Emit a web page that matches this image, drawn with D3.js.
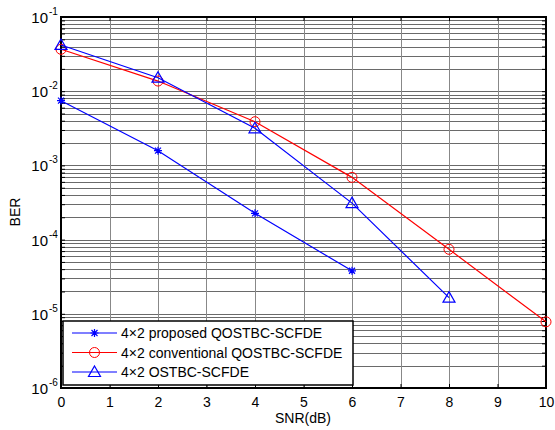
<!DOCTYPE html>
<html>
<head>
<meta charset="utf-8">
<script src="https://cdn.jsdelivr.net/npm/d3@7"></script>
<style>
  body { margin: 0; background: #fff; }
  text { font-family: "Liberation Sans", Arial, sans-serif; }
</style>
</head>
<body>
<svg id="chart" width="555" height="430"></svg>
<script>
// values
var snrProposed = [0, 2, 4, 6];
var berProposed = [7.45e-3, 1.58e-3, 2.26e-4, 3.8e-5];
var snrConv = [0, 2, 4, 6, 8, 10];
var berConv = [3.67e-2, 1.37e-2, 3.88e-3, 6.9e-4, 7.4e-5, 7.8e-6];
var snrOstbc = [0, 2, 4, 6, 8];
var berOstbc = [4.2e-2, 1.52e-2, 3.16e-3, 3.1e-4, 1.65e-5];
var xTicks = [0, 1, 2, 3, 4, 5, 6, 7, 8, 9, 10];
var yExponents = [-1, -2, -3, -4, -5, -6];
var seriesNames = ["4\u00d72 proposed QOSTBC-SCFDE", "4\u00d72 conventional QOSTBC-SCFDE", "4\u00d72 OSTBC-SCFDE"];

var svg = d3.select("#chart");
// note: "top" is taken by window.top, so use p* names
var pLeft = 61, pRight = 546, pTop = 17, pBottom = 388;

var x = d3.scaleLinear().domain([0, 10]).range([pLeft, pRight]);
var y = d3.scaleLog().domain([1e-6, 1e-1]).range([pBottom, pTop]);

// grid
var minor = [];
yExponents.slice(1).forEach(function(e) {
  for (var k = 2; k <= 9; k++) minor.push(k * Math.pow(10, e));
});
var grid = svg.append("g");
grid.selectAll(".ymin").data(minor).enter().append("line")
  .attr("x1", pLeft).attr("x2", pRight)
  .attr("y1", d => Math.round(y(d)) + 0.5).attr("y2", d => Math.round(y(d)) + 0.5)
  .attr("stroke", "#6a6a6a").attr("stroke-width", 1);
grid.selectAll(".ymaj").data(yExponents).enter().append("line")
  .attr("x1", pLeft).attr("x2", pRight)
  .attr("y1", d => Math.round(y(Math.pow(10, d))) + 0.5).attr("y2", d => Math.round(y(Math.pow(10, d))) + 0.5)
  .attr("stroke", "#6a6a6a").attr("stroke-width", 1);
grid.selectAll(".xg").data(xTicks).enter().append("line")
  .attr("y1", pTop).attr("y2", pBottom)
  .attr("x1", d => Math.round(x(d)) + 0.5).attr("x2", d => Math.round(x(d)) + 0.5)
  .attr("stroke", "#888").attr("stroke-width", 1);

// axes with ticks
var axB = d3.axisBottom(x).tickValues(xTicks).tickSizeInner(-4).tickSizeOuter(0).tickPadding(9).tickFormat(d3.format("d"));
var axT = d3.axisTop(x).tickValues(xTicks).tickSizeInner(-4).tickSizeOuter(0).tickFormat("");
var gB = svg.append("g").attr("transform", "translate(0," + pBottom + ")").call(axB);
svg.append("g").attr("transform", "translate(0," + pTop + ")").call(axT);
var yAll = minor.concat(yExponents.map(e => Math.pow(10, e)));
svg.append("g").attr("transform", "translate(" + pLeft + ",0)")
  .call(d3.axisLeft(y).tickValues(yAll).tickSizeInner(-4).tickSizeOuter(0).tickFormat(""));
svg.append("g").attr("transform", "translate(" + pRight + ",0)")
  .call(d3.axisRight(y).tickValues(yAll).tickSizeInner(-4).tickSizeOuter(0).tickFormat(""));
svg.selectAll(".domain").remove();
svg.selectAll(".tick line").attr("stroke", "#000");
gB.selectAll("text").attr("font-size", 14).attr("fill", "#000")
  .attr("font-family", "Liberation Sans, Arial, sans-serif");

svg.append("rect").attr("x", pLeft).attr("y", pTop)
  .attr("width", pRight - pLeft).attr("height", pBottom - pTop)
  .attr("fill", "none").attr("stroke", "#000").attr("stroke-width", 2);

// y tick labels 10^e
svg.append("g").selectAll("text").data(yExponents).enter().append("text")
  .attr("x", 48).attr("y", d => y(Math.pow(10, d)) + 6)
  .attr("text-anchor", "end").attr("font-size", 15).attr("fill", "#000").text("10");
svg.append("g").selectAll("text").data(yExponents).enter().append("text")
  .attr("x", 49).attr("y", d => y(Math.pow(10, d)) - 2)
  .attr("font-size", 10).attr("fill", "#000").text(d => "-" + Math.abs(d));

// axis titles
svg.append("text").attr("x", 303).attr("y", 423).attr("text-anchor", "middle")
  .attr("font-size", 14).text("SNR(dB)");
svg.append("text").attr("transform", "translate(20,212) rotate(-90)")
  .attr("text-anchor", "middle").attr("font-size", 14).text("BER");

// series
var line = d3.line().x(d => x(d[0])).y(d => y(d[1]));
var series = [
  { name: seriesNames[0], xs: snrProposed, ys: berProposed, color: "#0000ff", marker: "star" },
  { name: seriesNames[1], xs: snrConv, ys: berConv, color: "#ff0000", marker: "circle" },
  { name: seriesNames[2], xs: snrOstbc, ys: berOstbc, color: "#0000ff", marker: "tri" }
];

function drawMarker(g, type, cx, cy, color) {
  if (type === "circle") {
    g.append("circle").attr("cx", cx).attr("cy", cy).attr("r", 5)
      .attr("fill", "none").attr("stroke", color).attr("stroke-width", 1);
  } else if (type === "tri") {
    var s = 6;
    g.append("path").attr("d", "M" + cx + "," + (cy - s) + "L" + (cx + s) + "," + (cy + s * 0.75) + "L" + (cx - s) + "," + (cy + s * 0.75) + "Z")
      .attr("fill", "none").attr("stroke", color).attr("stroke-width", 1.2);
  } else {
    var r = 4, q = 3;
    g.append("path").attr("d",
      "M" + (cx - r) + "," + cy + "L" + (cx + r) + "," + cy +
      "M" + cx + "," + (cy - r) + "L" + cx + "," + (cy + r) +
      "M" + (cx - q) + "," + (cy - q) + "L" + (cx + q) + "," + (cy + q) +
      "M" + (cx - q) + "," + (cy + q) + "L" + (cx + q) + "," + (cy - q))
      .attr("stroke", color).attr("stroke-width", 1.2);
  }
}

series.forEach(function(s) {
  var pts = s.xs.map((v, i) => [v, s.ys[i]]);
  var g = svg.append("g");
  g.append("path").datum(pts).attr("d", line)
    .attr("fill", "none").attr("stroke", s.color).attr("stroke-width", 1.2);
  pts.forEach(p => drawMarker(g, s.marker, x(p[0]), y(p[1]), s.color));
});

// legend
var lg = svg.append("g");
lg.append("rect").attr("x", 63).attr("y", 321).attr("width", 290).attr("height", 64)
  .attr("fill", "#fff").attr("stroke", "#000").attr("stroke-width", 1.5);
series.forEach(function(s, i) {
  var ly = 333 + i * 19.5;
  lg.append("line").attr("x1", 72).attr("x2", 117).attr("y1", ly).attr("y2", ly)
    .attr("stroke", s.color).attr("stroke-width", 1.2);
  drawMarker(lg, s.marker, 94.5, ly, s.color);
  lg.append("text").attr("x", 121).attr("y", ly + 5).attr("font-size", 14).text(s.name);
});
</script>
</body>
</html>
